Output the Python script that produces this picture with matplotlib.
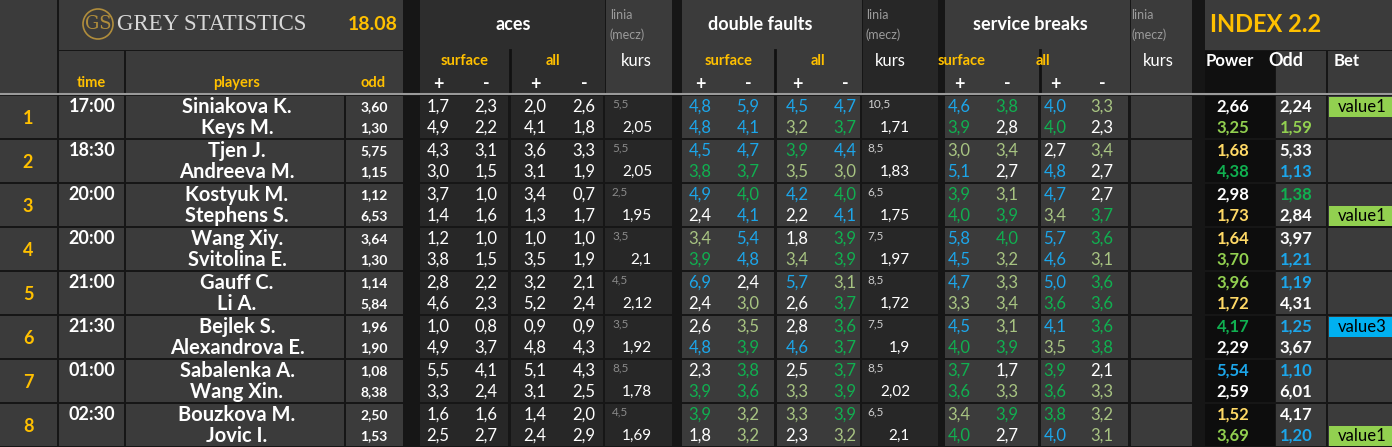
import matplotlib.pyplot as plt
from matplotlib.patches import Rectangle, Circle

plt.rcParams['font.family'] = ['Lato', 'DejaVu Sans']

match_no = [1, 2, 3, 4, 5, 6, 7, 8]
times = ["17:00", "18:30", "20:00", "20:00", "21:00", "21:30", "01:00", "02:30"]
players = ["Siniakova K.", "Keys M.", "Tjen J.", "Andreeva M.", "Kostyuk M.", "Stephens S.",
           "Wang Xiy.", "Svitolina E.", "Gauff C.", "Li A.", "Bejlek S.", "Alexandrova E.",
           "Sabalenka A.", "Wang Xin.", "Bouzkova M.", "Jovic I."]
odds = ["3,60", "1,30", "5,75", "1,15", "1,12", "6,53", "3,64", "1,30",
        "1,14", "5,84", "1,96", "1,90", "1,08", "8,38", "2,50", "1,53"]

aces = [["1,7", "2,3", "2,0", "2,6"], ["4,9", "2,2", "4,1", "1,8"],
        ["4,3", "3,1", "3,6", "3,3"], ["3,0", "1,5", "3,1", "1,9"],
        ["3,7", "1,0", "3,4", "0,7"], ["1,4", "1,6", "1,3", "1,7"],
        ["1,2", "1,0", "1,0", "1,0"], ["3,8", "1,5", "3,5", "1,9"],
        ["2,8", "2,2", "3,2", "2,1"], ["4,6", "2,3", "5,2", "2,4"],
        ["1,0", "0,8", "0,9", "0,9"], ["4,9", "3,7", "4,8", "4,3"],
        ["5,5", "4,1", "5,1", "4,3"], ["3,3", "2,4", "3,1", "2,5"],
        ["1,6", "1,6", "1,4", "2,0"], ["2,5", "2,7", "2,4", "2,9"]]
aces_line = ["5,5", "5,5", "2,5", "3,5", "4,5", "3,5", "8,5", "4,5"]
aces_kurs = ["2,05", "2,05", "1,95", "2,1", "2,12", "1,92", "1,78", "1,69"]

df = [["4,8", "5,9", "4,5", "4,7"], ["4,8", "4,1", "3,2", "3,7"],
      ["4,5", "4,7", "3,9", "4,4"], ["3,8", "3,7", "3,5", "3,0"],
      ["4,9", "4,0", "4,2", "4,0"], ["2,4", "4,1", "2,2", "4,1"],
      ["3,4", "5,4", "1,8", "3,9"], ["3,9", "4,8", "3,4", "3,9"],
      ["6,9", "2,4", "5,7", "3,1"], ["2,4", "3,0", "2,6", "3,7"],
      ["2,6", "3,5", "2,8", "3,6"], ["4,8", "3,9", "4,6", "3,7"],
      ["2,3", "3,8", "2,5", "3,7"], ["3,9", "3,6", "3,3", "3,9"],
      ["3,9", "3,2", "3,3", "3,9"], ["1,8", "3,2", "2,3", "3,2"]]
df_colors = ["bbbb", "bblg", "bbgb", "ggll", "bgbg", "wbwb", "lbwg", "gblg",
             "bwbl", "wlwg", "wlwg", "bgbg", "wgwg", "gglg", "gllg", "wlwl"]
df_line = ["10,5", "8,5", "6,5", "7,5", "8,5", "7,5", "8,5", "6,5"]
df_kurs = ["1,71", "1,83", "1,75", "1,97", "1,72", "1,9", "2,02", "2,1"]

sb = [["4,6", "3,8", "4,0", "3,3"], ["3,9", "2,8", "4,0", "2,3"],
      ["3,0", "3,4", "2,7", "3,4"], ["5,1", "2,7", "4,8", "2,7"],
      ["3,9", "3,1", "4,7", "2,7"], ["4,0", "3,9", "3,4", "3,7"],
      ["5,8", "4,0", "5,7", "3,6"], ["4,5", "3,2", "4,6", "3,1"],
      ["4,7", "3,3", "5,0", "3,6"], ["3,3", "3,4", "3,6", "3,6"],
      ["4,5", "3,1", "4,1", "3,6"], ["4,0", "3,9", "3,5", "3,8"],
      ["3,7", "1,7", "3,9", "2,1"], ["3,6", "3,3", "3,6", "3,3"],
      ["3,4", "3,9", "3,8", "3,2"], ["4,0", "2,7", "4,0", "3,1"]]
sb_colors = ["bgbl", "gwgw", "llwl", "bwbw", "glbw", "gglg", "bgbg", "blbl",
             "blbg", "llgg", "blbg", "gglg", "gwgw", "glgl", "lggl", "gwbl"]

power = ["2,66", "3,25", "1,68", "4,38", "2,98", "1,73", "1,64", "3,70",
         "3,96", "1,72", "4,17", "2,29", "5,54", "2,59", "1,52", "3,69"]
power_colors = "wLyGwyyLLyGwbwyL"
index_odd = ["2,24", "1,59", "5,33", "1,13", "1,38", "2,84", "3,97", "1,21",
             "1,19", "4,31", "1,25", "3,67", "1,10", "6,01", "4,17", "1,20"]
odd_colors = "wLwbGwwbbwbwbwwb"
bets = {0: "value1", 5: "value1", 10: "value3", 15: "value1"}

COL = {'w': 'white', 'b': '#1ca6ea', 'g': '#10b050', 'l': '#a8c482',
       'y': '#ffd966', 'L': '#92d050', 'G': '#10b050'}
GREY, DARK, BLACK = '#3b3b3b', '#272727', '#101010'
GOLD = '#ffc000'

fig = plt.figure(figsize=(13.92, 4.47), dpi=100)
ax = fig.add_axes([0, 0, 1, 1])
ax.set_xlim(0, 1392)
ax.set_ylim(447, 0)
ax.axis('off')
ax.add_patch(Rectangle((0, 0), 1392, 447, color='#161616'))


def box(x0, x1, y0, y1, c):
    ax.add_patch(Rectangle((x0, y0), x1 - x0, y1 - y0, color=c, lw=0))


def txt(x, y, s, c='white', size=11, weight='normal', ha='center', **kw):
    ax.text(x, y, s, color=c, fontsize=size, fontweight=weight, ha=ha, va='center', **kw)


# header backgrounds
box(0, 57, 0, 93, GREY)
box(59, 403, 0, 50, GREY)
box(59, 124, 51, 93, GREY)
box(126, 403, 51, 93, GREY)
box(420, 605, 0, 93, '#2d2d2d')
box(606, 672, 0, 93, GREY)
box(682, 862, 0, 93, GREY)
box(863, 938, 0, 93, DARK)
box(945, 1130, 0, 93, GREY)
box(1131, 1192, 0, 93, GREY)
box(1205, 1392, 0, 50, GREY)
box(1205, 1275, 51, 93, BLACK)
box(1276, 1326, 51, 93, GREY)
box(1328, 1392, 51, 93, GREY)
for x in (510, 775, 1040):
    ax.plot([x, x], [50, 93], color='#111111', lw=2)
ax.plot([0, 1392], [94, 94], color='#9a9a9a', lw=1.5)

# logo and titles
ax.add_patch(Circle((98, 24), 15, fill=False, ec='#b08d3c', lw=1.2))
txt(98, 24, "GS", c='#b08d3c', size=13, family='DejaVu Serif')
txt(117, 24, "GREY STATISTICS", c='#d8d8d8', size=16.5, ha='left', family='Liberation Serif')
txt(373, 24, "18.08", c=GOLD, size=14, weight='bold')
txt(513, 25, "aces", size=13, weight='bold')
txt(760, 25, "double faults", size=13, weight='bold')
txt(1030, 25, "service breaks", size=13, weight='bold')
for x in (610, 866, 1131):
    txt(x, 15, "linia", c='#9a9a9a', size=9, ha='left')
    txt(x, 35, "(mecz)", c='#9a9a9a', size=9, ha='left')
txt(1210, 24, "INDEX 2.2", c=GOLD, size=17, weight='bold', ha='left')

for x0, x1 in ((420, 510), (682, 775)):
    txt((x0 + x1) / 2, 61, "surface", c=GOLD, size=10.5, weight='bold')
    txt((x1 + x1 + 95) / 2 - 5, 61, "all", c=GOLD, size=10.5, weight='bold')
txt(938, 61, "surface", c=GOLD, size=10.5, weight='bold', ha='left')
txt(1036, 61, "all", c=GOLD, size=10.5, weight='bold', ha='left')
for x in (636, 890, 1158):
    txt(x, 61, "kurs", size=12)
txt(1230, 61, "Power", size=12, weight='bold')
txt(1286, 61, "Odd", size=13, weight='bold')
txt(1347, 61, "Bet", size=12, weight='bold')
txt(91, 83, "time", c=GOLD, size=10.5, weight='bold')
txt(237, 83, "players", c=GOLD, size=10.5, weight='bold')
txt(373, 83, "odd", c=GOLD, size=10.5, weight='bold')

xs_aces = [438, 486, 535, 584]
xs_df = [700, 748, 797, 845]
xs_sb = [959, 1007, 1055, 1102]
for xs in (xs_aces, xs_df, xs_sb):
    for x, s in zip(xs, "+-+-"):
        txt(x, 84, s, size=13, weight='bold')

# data rows
for k in range(8):
    y0 = 96 + 44 * k
    y1 = y0 + 42
    box(0, 57, y0, y1, GREY)
    box(59, 124, y0, y1, GREY)
    box(126, 344, y0, y1, GREY)
    box(346, 403, y0, y1, GREY)
    box(420, 508, y0, y1, DARK)
    box(511, 603, y0, y1, DARK)
    box(605, 672, y0, y1, DARK)
    box(682, 774, y0, y1, GREY)
    box(777, 860, y0, y1, GREY)
    box(862, 938, y0, y1, DARK)
    box(945, 1038, y0, y1, GREY)
    box(1041, 1128, y0, y1, GREY)
    box(1131, 1192, y0, y1, GREY)
    box(1205, 1275, y0, y1, '#0d0d0d')
    box(1276, 1326, y0, y1, GREY)
    box(1328, 1392, y0, y1, GREY)
    txt(28, y0 + 22, str(match_no[k]), c=GOLD, size=13, weight='bold')
    txt(92, y0 + 11, times[k], size=13, weight='bold')
    txt(612, y0 + 8, aces_line[k], c='#8a8a8a', size=8.5, ha='left')
    txt(652, y0 + 32, aces_kurs[k], size=11, ha='right')
    txt(867, y0 + 8, df_line[k], c='#cfcfcf', size=8.5, ha='left')
    txt(910, y0 + 32, df_kurs[k], size=11, ha='right')
    for j in range(2):
        r = 2 * k + j
        yy = y0 + 11 + 21 * j
        txt(237, yy, players[r], size=14.5, weight='bold')
        txt(374, yy, odds[r], size=10, weight='bold')
        for i in range(4):
            txt(xs_aces[i], yy, aces[r][i], size=12)
            txt(xs_df[i], yy, df[r][i], c=COL[df_colors[r][i]], size=12)
            txt(xs_sb[i], yy, sb[r][i], c=COL[sb_colors[r][i]], size=12)
        txt(1233, yy, power[r], c=COL[power_colors[r]], size=12, weight='bold')
        txt(1296, yy, index_odd[r], c=COL[odd_colors[r]], size=12, weight='bold')
        if r in bets:
            bc = '#92d050' if bets[r] == 'value1' else '#00b0f0'
            box(1329, 1392, yy - 10, yy + 10, bc)
            txt(1362, yy, bets[r], c='black', size=12)

fig.savefig("out.png", dpi=100)
